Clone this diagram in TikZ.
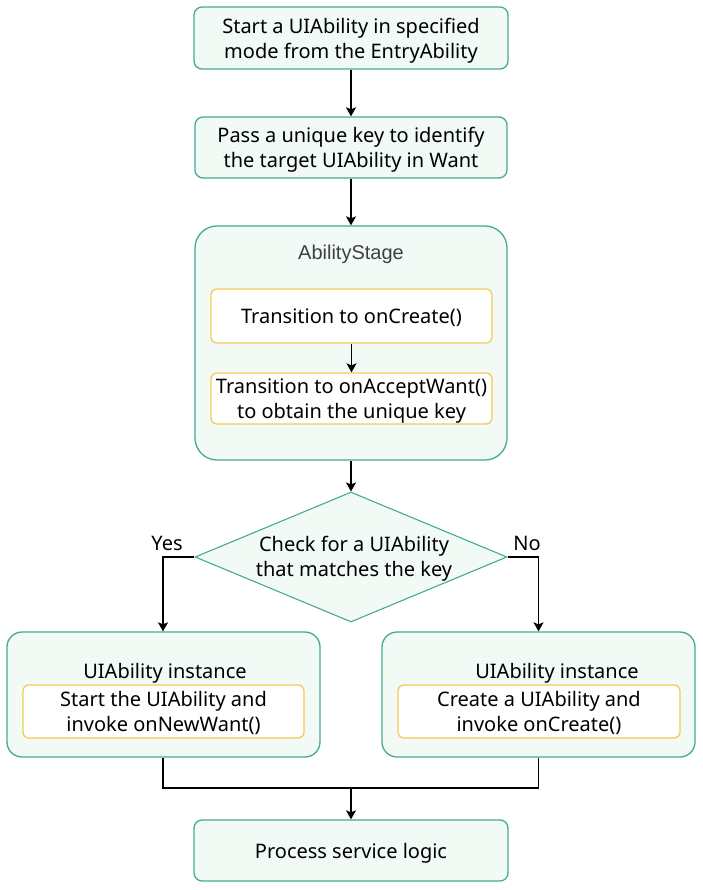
\documentclass[tikz,border=0pt]{standalone}
\usepackage{fontspec}
\setmainfont{Noto Sans}
\newfontfamily\arialfont{Liberation Sans}
\usetikzlibrary{shapes.geometric,arrows.meta}
\definecolor{boxfill}{HTML}{F2FAF6}
\definecolor{boxline}{HTML}{45AA96}
\definecolor{yline}{HTML}{F2CB55}
\definecolor{graytext}{HTML}{404040}
\begin{document}
\begin{tikzpicture}[x=1pt,y=-1pt,
  every node/.style={font=\fontsize{20}{25}\selectfont, align=center, inner sep=0pt},
  greenbox/.style={draw=boxline, line width=1.3pt, fill=boxfill, rounded corners=8pt, text depth=0pt},
  bigbox/.style={draw=boxline, line width=1.3pt, fill=boxfill, rounded corners=22pt},
  midbox/.style={draw=boxline, line width=1.3pt, fill=boxfill, rounded corners=15pt},
  ybox/.style={draw=yline, line width=1.3pt, fill=white, rounded corners=6pt, text depth=0pt},
  arr/.style={line width=1.4pt, -{Stealth[width=10pt,length=9pt,inset=2pt]}},
  conn/.style={line width=1.4pt}
]
\useasboundingbox (0,0) rectangle (702,890);
\fill[white] (0,0) rectangle (702,890);

% top boxes
\node[greenbox, minimum width=314pt, minimum height=62pt] (b1) at (351,38)
  {Start a UIAbility in specified\\mode from the EntryAbility};
\node[greenbox, minimum width=312pt, minimum height=61pt] (b2) at (351,147.5)
  {Pass a unique key to identify\\the target UIAbility in Want};

% AbilityStage
\node[bigbox, minimum width=312pt, minimum height=234pt] (stage) at (351,343) {};
\node[font=\arialfont\fontsize{20}{22}\selectfont, text=graytext] (stagetitle) at (351,254) {AbilityStage};
\node[ybox, minimum width=281pt, minimum height=54pt] (s1) at (351.5,316) {Transition to onCreate()};
\node[ybox, minimum width=281pt, minimum height=51pt] (s2) at (351.5,398.5) {Transition to onAcceptWant()\\to obtain the unique key};

% diamond
\node[diamond, draw=boxline, line width=1.1pt, fill=boxfill, minimum width=312pt, minimum height=130pt] (dia) at (351,557) {};
\node (diatext) at (354,559) {Check for a UIAbility\\that matches the key};

% lower boxes
\node[midbox, minimum width=313pt, minimum height=125pt] (lb) at (163.5,694.5) {};
\node (lbtitle) at (165,673) {UIAbility instance};
\node[ybox, minimum width=281pt, minimum height=53pt] (lin) at (163.5,711.5) {Start the UIAbility and\\invoke onNewWant()};

\node[midbox, minimum width=313pt, minimum height=125pt] (rb) at (538.5,694.5) {};
\node (rbtitle) at (557,673) {UIAbility instance};
\node[ybox, minimum width=282pt, minimum height=53pt] (rin) at (539,711.5) {Create a UIAbility and\\invoke onCreate()};

% final
\node[greenbox, minimum width=314pt, minimum height=61pt] (b5) at (351,850.5) {Process service logic};

% labels
\node (yes) at (167,543) {Yes};
\node (no) at (527,543) {No};

% connectors
\draw[arr] (b1.south) -- (b2.north);
\draw[arr] (b2.south) -- (stage.north);
\draw[arr] (s1.south) -- (s2.north);
\draw[arr] (stage.south) -- (dia.north);
\coordinate (yl) at (163,557);
\coordinate (nr) at (538.5,557);
\draw[arr] (dia.west) -- (yl) -- (yl |- lb.north);
\draw[arr] (dia.east) -- (nr) -- (nr |- rb.north);
\coordinate (jl) at (163,788);
\coordinate (jr) at (538.5,788);
\coordinate (jm) at (351,788);
\draw[conn] (jl |- lb.south) -- (jl) -- (jr) -- (jr |- rb.south);
\draw[arr] (jm) -- (b5.north);
\end{tikzpicture}
\end{document}
